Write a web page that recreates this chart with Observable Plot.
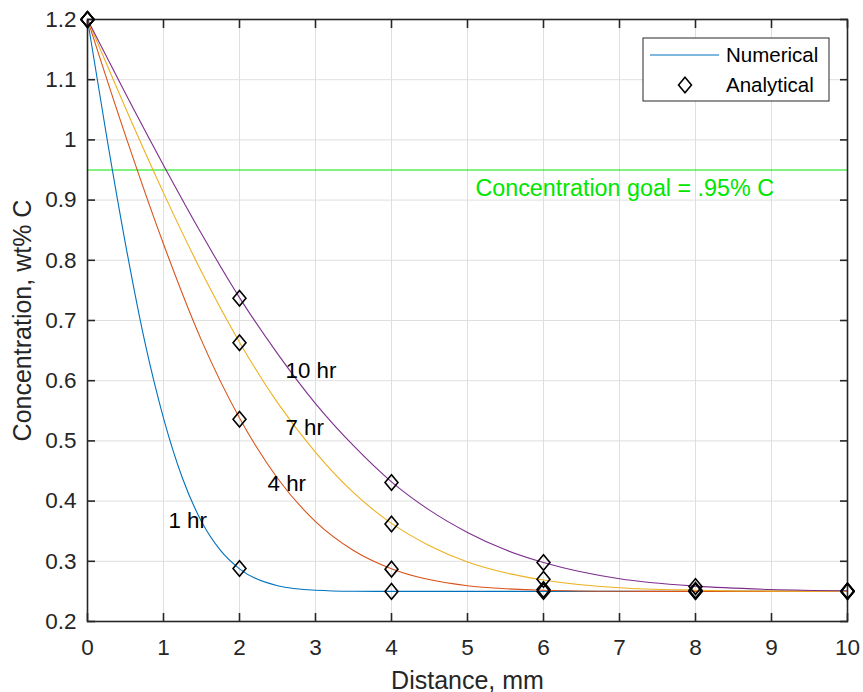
<!DOCTYPE html>
<html>
<head>
<meta charset="utf-8">
<script src="https://cdn.jsdelivr.net/npm/d3@7"></script>
<script src="https://cdn.jsdelivr.net/npm/@observablehq/plot@0.6"></script>
<style>
  body { margin: 0; background: #fff; }
  #chart { position: relative; width: 863px; height: 692px; }
</style>
</head>
<body>
<div id="chart"></div>
<script>
// ---- Data ----
const xTicks = [0, 1, 2, 3, 4, 5, 6, 7, 8, 9, 10];
const yTicks = [0.2, 0.3, 0.4, 0.5, 0.6, 0.7, 0.8, 0.9, 1.0, 1.1, 1.2];
const yTickLabels = ["0.2", "0.3", "0.4", "0.5", "0.6", "0.7", "0.8", "0.9", "1", "1.1", "1.2"];

// Numerical curves
const dist1hr = [0, 0.25, 0.5, 0.75, 1, 1.25, 1.5, 1.75, 2, 2.5, 3, 3.5, 4, 5, 6, 7, 8, 9, 10];
const conc1hr = [1.2, 1.007, 0.827, 0.667, 0.538, 0.438, 0.366, 0.318, 0.2875, 0.2595, 0.252, 0.2503, 0.25, 0.25, 0.25, 0.25, 0.25, 0.25, 0.25];
const dist4hr = [0, 0.5, 1, 1.5, 2, 2.5, 3, 3.5, 4, 5, 6, 7, 8, 9, 10];
const conc4hr = [1.2, 1.007, 0.827, 0.667, 0.538, 0.438, 0.366, 0.318, 0.2875, 0.2595, 0.252, 0.2503, 0.25, 0.25, 0.25];
const dist7hr = [0, 0.5, 1, 1.5, 2, 2.5, 3, 3.5, 4, 4.5, 5, 5.5, 6, 7, 8, 9, 10];
const conc7hr = [1.2, 1.053, 0.912, 0.781, 0.664, 0.5635, 0.481, 0.414, 0.363, 0.326, 0.299, 0.281, 0.269, 0.256, 0.252, 0.2505, 0.25];
const dist10hr = [0, 0.5, 1, 1.5, 2, 2.5, 3, 3.5, 4, 4.5, 5, 5.5, 6, 7, 8, 9, 10];
const conc10hr = [1.2, 1.077, 0.958, 0.844, 0.738, 0.645, 0.562, 0.492, 0.432, 0.385, 0.348, 0.319, 0.298, 0.271, 0.2587, 0.2532, 0.251];

// Analytical points
const distAnalytical = [0, 2, 4, 6, 8, 10];
const anal1hr = [1.2, 0.288, 0.25, 0.25, 0.25, 0.25];
const anal4hr = [1.2, 0.536, 0.287, 0.253, 0.25, 0.25];
const anal7hr = [1.2, 0.663, 0.362, 0.270, 0.252, 0.25];
const anal10hr = [1.2, 0.737, 0.431, 0.298, 0.258, 0.251];

const goal = 0.95;
const goalLabel = "Concentration goal = .95% C";

const seriesNames = ["1 hr", "4 hr", "7 hr", "10 hr"];
const seriesColors = ["#0072BD", "#D95319", "#EDB120", "#7E2F8E"];
const labelX = [1.066, 2.37, 2.605, 2.605];
const labelY = [0.368, 0.429, 0.522, 0.617];

// ---- Build tables ----
const numDists = [dist1hr, dist4hr, dist7hr, dist10hr];
const numConcs = [conc1hr, conc4hr, conc7hr, conc10hr];
const analConcs = [anal1hr, anal4hr, anal7hr, anal10hr];

const numerical = [];
numDists.forEach((xs, s) => xs.forEach((x, i) => numerical.push({series: seriesNames[s], x, y: numConcs[s][i]})));
const analytical = [];
analConcs.forEach((ys, s) => ys.forEach((y, i) => analytical.push({series: seriesNames[s], x: distAnalytical[i], y})));
const labels = seriesNames.map((name, i) => ({name, x: labelX[i], y: labelY[i]}));

const diamond = {
  draw(ctx, size) {
    const r = Math.sqrt(size / Math.PI);
    const w = r * 0.83, h = r;
    ctx.moveTo(0, -h); ctx.lineTo(w, 0); ctx.lineTo(0, h); ctx.lineTo(-w, 0); ctx.closePath();
  }
};

const axisColor = "#262626";
const font = "'Liberation Sans', Arial, Helvetica, sans-serif";

const plot = Plot.plot({
  width: 863,
  height: 692,
  marginLeft: 87,
  marginRight: 16,
  marginTop: 19,
  marginBottom: 71,
  x: {domain: [0, 10]},
  y: {domain: [0.2, 1.2]},
  color: {domain: seriesNames, range: seriesColors},
  style: {fontFamily: font, fontSize: "22.5px", color: axisColor, background: "#fff", overflow: "visible"},
  marks: [
    Plot.gridX(xTicks, {stroke: "#dfdfdf", strokeOpacity: 1, strokeWidth: 1}),
    Plot.gridY(yTicks, {stroke: "#dfdfdf", strokeOpacity: 1, strokeWidth: 1}),
    Plot.ruleY([goal], {stroke: "#00e600", strokeWidth: 1}),
    Plot.text([goalLabel], {x: 5.105, y: 0.919, text: d => d, fill: "#00e600", fontSize: 23.3, textAnchor: "start", lineAnchor: "middle"}),
    Plot.line(numerical, {x: "x", y: "y", z: "series", stroke: "series", strokeWidth: 1.1, curve: "monotone-x"}),
    Plot.text(labels, {x: "x", y: "y", text: "name", fill: "#000", fontSize: 22.3, textAnchor: "start", lineAnchor: "middle"}),
    Plot.frame({stroke: axisColor, strokeWidth: 1.6}),
    // inward ticks on all four sides
    Plot.axisX(xTicks, {anchor: "bottom", tickSize: -8, tickFormat: () => "", label: null, stroke: axisColor, strokeWidth: 1.6}),
    Plot.axisX(xTicks, {anchor: "top", tickSize: -8, tickFormat: () => "", label: null, stroke: axisColor, strokeWidth: 1.6}),
    Plot.axisY(yTicks, {anchor: "left", tickSize: -8, tickFormat: () => "", label: null, stroke: axisColor, strokeWidth: 1.6}),
    Plot.axisY(yTicks, {anchor: "right", tickSize: -8, tickFormat: () => "", label: null, stroke: axisColor, strokeWidth: 1.6}),
    // tick labels
    Plot.axisX(xTicks, {anchor: "bottom", tickSize: 0, tickPadding: 18, tickFormat: d => String(d), label: null, fill: axisColor}),
    Plot.axisY(yTicks, {anchor: "left", tickSize: 0, tickPadding: 11, tickFormat: d => yTickLabels[yTicks.indexOf(d)], label: null, fill: axisColor}),
    // axis titles
    Plot.text(["Distance, mm"], {frameAnchor: "bottom", dy: 59, text: d => d, fontSize: 25, fill: axisColor, textAnchor: "middle", lineAnchor: "middle"}),
    Plot.text(["Concentration, wt% C"], {frameAnchor: "left", dx: -65, rotate: -90, text: d => d, fontSize: 25, fill: axisColor, textAnchor: "middle", lineAnchor: "middle"}),
    // analytical diamonds
    Plot.dot(analytical, {x: "x", y: "y", symbol: diamond, r: 7.8, stroke: "#000", fill: "none", strokeWidth: 1.6})
  ]
});

document.getElementById("chart").appendChild(plot);

// Legend
const svg = d3.select(plot);
const lg = svg.append("g").attr("font-family", font).attr("font-size", 20.5).attr("text-anchor", "start");
lg.append("rect").attr("x", 643).attr("y", 38).attr("width", 186).attr("height", 63)
  .attr("fill", "#fff").attr("stroke", axisColor).attr("stroke-width", 1);
lg.append("line").attr("x1", 650).attr("x2", 719).attr("y1", 55).attr("y2", 55)
  .attr("stroke", seriesColors[0]).attr("stroke-width", 1.1);
lg.append("path").attr("transform", "translate(685,85)")
  .attr("d", d3.symbol(diamond, 7.8 * 7.8 * Math.PI)())
  .attr("fill", "none").attr("stroke", "#000").attr("stroke-width", 1.6);
lg.append("text").attr("x", 726).attr("y", 55).attr("dy", "0.35em").attr("fill", "#000").text("Numerical");
lg.append("text").attr("x", 726).attr("y", 85).attr("dy", "0.35em").attr("fill", "#000").text("Analytical");
</script>
</body>
</html>
